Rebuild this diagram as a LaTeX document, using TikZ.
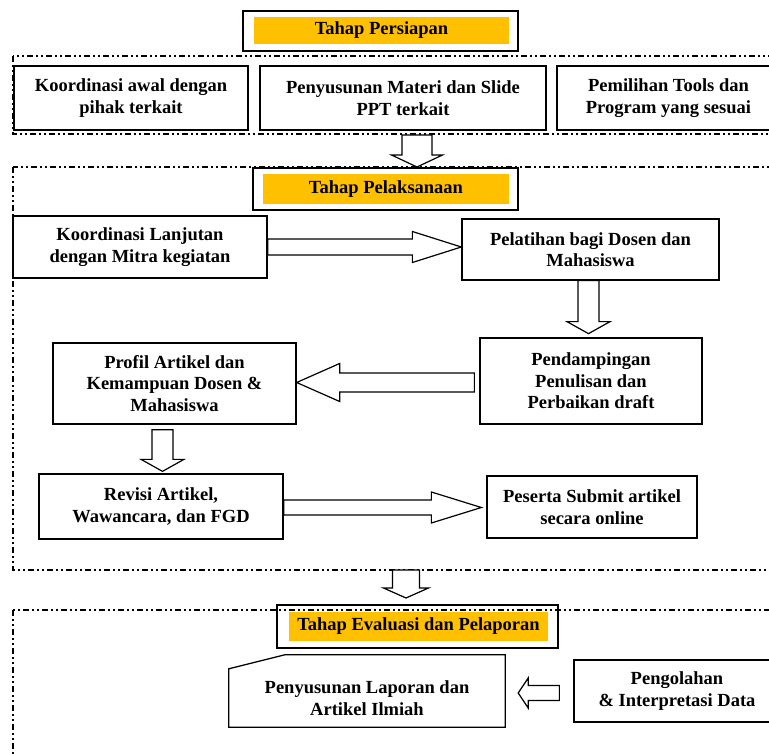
\documentclass[tikz,border=0pt]{standalone}
\usepackage{fontspec}
\setmainfont{Liberation Serif}
\usetikzlibrary{calc}
\definecolor{gold}{HTML}{FFC000}
\tikzset{
  txt/.style={font=\bfseries\fontsize{18.5}{21.5}\selectfont, align=center},
  box/.style={txt, draw=black, line width=1.3pt, fill=white, inner sep=2pt},
  hdrframe/.style={draw=black, line width=1.3pt, fill=white, inner sep=0pt},
  hdrfill/.style={txt, fill=gold, inner sep=0pt},
  section/.style={draw=black, line width=1.2pt, dash pattern=on 6pt off 3pt on 2pt off 3pt on 2pt off 3pt},
  hollow/.style={draw=black, line width=1.2pt, fill=white, line join=miter},
}
\newcommand\harrowR[5]{\draw[hollow] ($(#1)+(0,-#3)$) -- ($(#2)+(-#5,-#3)$) -- ($(#2)+(-#5,-#4)$) -- (#2) -- ($(#2)+(-#5,#4)$) -- ($(#2)+(-#5,#3)$) -- ($(#1)+(0,#3)$) -- cycle;}
\newcommand\harrowL[5]{\draw[hollow] ($(#1)+(0,-#3)$) -- ($(#2)+(#5,-#3)$) -- ($(#2)+(#5,-#4)$) -- (#2) -- ($(#2)+(#5,#4)$) -- ($(#2)+(#5,#3)$) -- ($(#1)+(0,#3)$) -- cycle;}
\newcommand\harrowD[5]{\draw[hollow] ($(#1)+(-#3,0)$) -- ($(#2)+(-#3,-#5)$) -- ($(#2)+(-#4,-#5)$) -- (#2) -- ($(#2)+(#4,-#5)$) -- ($(#2)+(#3,-#5)$) -- ($(#1)+(#3,0)$) -- cycle;}
\begin{document}
\begin{tikzpicture}[x=1pt, y=-1pt]
\clip (0,0) rectangle (769,754);
\fill[white] (0,0) rectangle (769,754);

% sections
\draw[section] (13,56) rectangle (800,134);
\draw[section] (13,167) rectangle (800,570);

% ---- Tahap Persiapan
\node[hdrframe, minimum width=275pt, minimum height=40pt] (h1) at (380.5,31) {};
\node[hdrfill, minimum width=255pt, minimum height=27pt] (h1t) at (381.5,30.5) {Tahap Persiapan};

\node[box, minimum width=234pt, minimum height=64pt] (k1) at (131,98) {Koordinasi awal dengan\\pihak terkait};
\node[box, minimum width=286pt, minimum height=64pt] (k2) at (403,98) {Penyusunan Materi dan Slide\\PPT terkait};
\node[box, minimum width=223pt, minimum height=64pt] (k3) at (668.5,98) {Pemilihan Tools dan\\Program yang sesuai};

% arrow to Pelaksanaan
\coordinate (a1s) at (417,135);
\coordinate (a1t) at (417,167);
\harrowD{a1s}{a1t}{15}{25.5}{12}

% ---- Tahap Pelaksanaan
\node[hdrframe, minimum width=265pt, minimum height=42pt] (h2) at (385.5,189) {};
\node[hdrfill, minimum width=246pt, minimum height=30pt] (h2t) at (386,189) {Tahap Pelaksanaan};

\node[box, minimum width=254pt, minimum height=62pt] (p1) at (140,247) {Koordinasi Lanjutan\\dengan Mitra kegiatan};
\node[box, minimum width=257pt, minimum height=61pt] (p2) at (590.5,249.5) {Pelatihan bagi Dosen dan\\Mahasiswa};
\node[box, minimum width=222pt, minimum height=86pt] (p3) at (591,381) {Pendampingan\\Penulisan dan\\Perbaikan draft};
\node[box, minimum width=243pt, minimum height=81pt] (p4) at (174.5,383.5) {Profil Artikel dan\\Kemampuan Dosen \&\\Mahasiswa};
\node[box, minimum width=244pt, minimum height=65pt] (p5) at (161,506.5) {Revisi Artikel,\\Wawancara, dan FGD};
\node[box, minimum width=210pt, minimum height=62pt] (p6) at (592,507) {Peserta Submit artikel\\secara online};

\coordinate (a2t) at (p2.west |- p1.east);
\harrowR{p1.east}{a2t}{8}{15.5}{49}

\coordinate (a3s) at ($(p2.south)+(-2,0)$);
\coordinate (a3t) at ($(p2.south)+(-2,53)$);
\harrowD{a3s}{a3t}{10.5}{21.5}{12}

\coordinate (a4s) at ($(p3.west)+(-5,1.5)$);
\coordinate (a4t) at (p4.east |- a4s);
\harrowL{a4s}{a4t}{9.5}{19}{43}

\coordinate (a5s) at ($(p4.south)+(-12,5)$);
\coordinate (a5t) at ($(p5.north)+(1.5,-2)$);
\harrowD{a5s}{a5t}{10.5}{21.5}{12}

\coordinate (a6t) at ($(p5.east -| p6.west)+(-5,1)$);
\coordinate (a6s) at ($(p5.east)+(0,1)$);
\harrowR{a6s}{a6t}{7.5}{15.5}{50}

% arrow to Evaluasi
\coordinate (a7s) at (406,570);
\coordinate (a7t) at (406,598);
\harrowD{a7s}{a7t}{13.5}{22.5}{10}

% ---- Tahap Evaluasi dan Pelaporan
\node[hdrframe, minimum width=281pt, minimum height=43pt] (h3) at (417.5,626.5) {};
\node[hdrfill, minimum width=259pt, minimum height=29pt] (h3t) at (418.5,626.5) {Tahap Evaluasi dan Pelaporan};
\draw[section] (13,610) rectangle (800,800);
\node[hdrfill, minimum width=259pt, minimum height=29pt] at (418.5,626.5) {Tahap Evaluasi dan Pelaporan};

\node[minimum width=276pt, minimum height=72pt, inner sep=0pt] (e1) at (367,691) {};
\draw[line width=1.3pt, fill=white] ($(e1.north west)+(0,14)$) -- ($(e1.north west)+(56,0)$) -- (e1.north east) -- (e1.south east) -- (e1.south west) -- cycle;
\node[txt] (e1t) at (367,698) {Penyusunan Laporan dan\\Artikel Ilmiah};

\node[box, minimum width=206pt, minimum height=62pt] (e2) at (677,691) {Pengolahan\\\& Interpretasi Data};

\coordinate (a8s) at ($(e2.west)+(-14,2)$);
\coordinate (a8t) at ($(e1.east)+(13,2)$);
\harrowL{a8s}{a8t}{7.5}{15}{10}
\end{tikzpicture}
\end{document}
